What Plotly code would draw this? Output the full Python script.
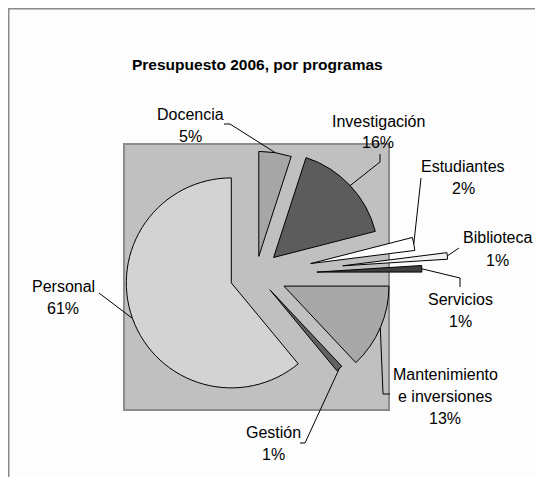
import math
import plotly.graph_objects as go

# ---------------- data ----------------
categories = ["Docencia", "Investigación", "Estudiantes", "Biblioteca", "Servicios",
              "Mantenimiento e inversiones", "Gestión", "Personal"]
values = [5, 16, 2, 1, 1, 13, 1, 61]
label_lines = [["Docencia"], ["Investigación"], ["Estudiantes"], ["Biblioteca"], ["Servicios"],
               ["Mantenimiento", "e inversiones"], ["Gestión"], ["Personal"]]
title_text = "Presupuesto 2006, por programas"

# ---------------- styling / layout ----------------
slice_colors = ["#a6a6a6", "#5c5c5c", "#ffffff", "#f2f2f2", "#404040",
                "#a8a8a8", "#626262", "#d3d3d3"]
pulls = [0.17, 0.23, 0.53, 0.83, 0.58, 0.29, 0.20, 0.25]

W, H = 543, 477
OFF = 8  # page body offset of the figure in the browser window
CX, CY, R = 256, 274, 105  # pie centre / radius in window pixels
LINE_GAP = 22

# label: x centre and y of first line (window px)
label_pos = [(190, 114), (378, 121), (463, 166), (497, 238), (460, 299),
             (445, 374), (273, 432), (63, 286)]
leader_pts = [
    [(224, 124), (230, 124)],
    [(380, 154), (380, 162)],
    [(421, 178)],
    [(459, 248)],
    [(460, 287), (460, 278)],
    [(390, 394), (383, 394)],
    [(300, 443), (305, 443)],
    [(99, 293)],
]

FONT = "Liberation Sans, Arial, sans-serif"


def px(x):
    return (x - OFF) / W


def py(y):
    return 1 - (y - OFF) / H


total = sum(values)
maxpull = max(pulls)
hb = R * (1 + maxpull)
dom_x = [px(CX - hb), px(CX + hb)]
dom_y = [py(CY + hb), py(CY - hb)]

fig = go.Figure()
fig.add_trace(go.Pie(
    labels=categories, values=values, sort=False, direction="clockwise",
    rotation=0, pull=pulls, textinfo="none", hoverinfo="label+percent",
    marker=dict(colors=slice_colors, line=dict(color="#000000", width=1)),
    domain=dict(x=dom_x, y=dom_y), showlegend=False,
))

shapes = []
# outer chart frame (cropped at right / bottom)
shapes.append(dict(type="rect", xref="paper", yref="paper", layer="below",
                   x0=px(8.5), y0=py(8.5), x1=px(600), y1=py(560),
                   line=dict(color="#8a8a8a", width=2), fillcolor="#fdfdfd"))
# grey plot area
shapes.append(dict(type="rect", xref="paper", yref="paper", layer="below",
                   x0=px(124), y0=py(144), x1=px(389), y1=py(410),
                   line=dict(color="#8c8c8c", width=2), fillcolor="#c0c0c0"))

annotations = []
cum = 0
for i, v in enumerate(values):
    mid = (cum + v / 2) / total * 2 * math.pi
    cum += v
    dx, dy = math.sin(mid), -math.cos(mid)
    ax = CX + (1 + pulls[i]) * R * dx
    ay = CY + (1 + pulls[i]) * R * dy
    pts = leader_pts[i] + [(ax, ay)]
    for (x0, y0), (x1, y1) in zip(pts[:-1], pts[1:]):
        shapes.append(dict(type="line", xref="paper", yref="paper",
                           x0=px(x0), y0=py(y0), x1=px(x1), y1=py(y1),
                           line=dict(color="#000000", width=1)))
    pct = round(v / total * 100)
    lx, ly = label_pos[i]
    for k, line in enumerate(label_lines[i] + [f"{pct}%"]):
        annotations.append(dict(
            x=px(lx), y=py(ly + k * LINE_GAP), xref="paper", yref="paper",
            showarrow=False, text=line, xanchor="center", yanchor="middle",
            font=dict(family=FONT, size=16, color="#000000")))

annotations.append(dict(
    x=px(257), y=py(65), xref="paper", yref="paper", showarrow=False,
    text=f"<b>{title_text}</b>", xanchor="center", yanchor="middle",
    font=dict(family=FONT, size=15.5, color="#000000")))

fig.update_layout(
    width=W, height=H, margin=dict(l=0, r=0, t=0, b=0),
    paper_bgcolor="#ffffff", plot_bgcolor="#ffffff",
    shapes=shapes, annotations=annotations,
)

fig.write_html("out.html")
